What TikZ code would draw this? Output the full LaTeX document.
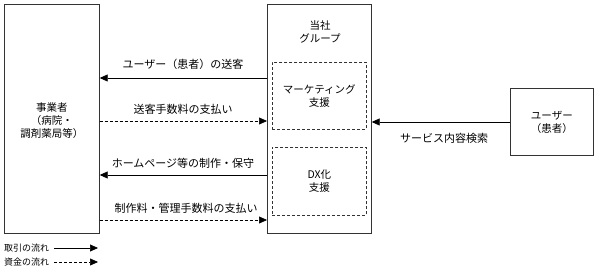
\documentclass[tikz,border=0pt]{standalone}
\usepackage{fontspec}
\setmainfont{Noto Sans CJK JP}
\usetikzlibrary{arrows.meta}
\begin{document}
\begin{tikzpicture}[x=1pt,y=-1pt,
  box/.style={draw=black!80,line width=0.7pt,inner sep=0pt,anchor=north west},
  dbox/.style={draw=black!80,line width=0.6pt,dash pattern=on 3pt off 2pt,inner sep=0pt,anchor=north west},
  lbl/.style={font=\fontsize{11}{13}\selectfont,inner sep=0pt},
  txt/.style={font=\fontsize{10.5}{13}\selectfont,align=center,inner sep=0pt},
  flow/.style={line width=0.7pt,-{Triangle[length=8pt,width=7pt]}},
  money/.style={line width=0.6pt,dash pattern=on 3pt off 2pt,-{Triangle[length=8pt,width=7pt]}},
  leg/.style={font=\fontsize{9}{10}\selectfont,inner sep=0pt,anchor=west}]
\useasboundingbox (0,0) rectangle (600,272);
% boxes
\node[box,minimum width=95pt,minimum height=229pt] (biz) at (4,4) {};
\node[box,minimum width=104pt,minimum height=229pt] (grp) at (267,4) {};
\node[dbox,minimum width=94pt,minimum height=67pt] (mkt) at (272,62) {};
\node[dbox,minimum width=94pt,minimum height=68pt] (dx) at (272,147) {};
\node[box,minimum width=83pt,minimum height=67pt] (usr) at (510,88) {};
% box texts
\node[txt] (biztxt) at (biz.center) [yshift=-2pt] {事業者\\（病院・\\調剤薬局等）};
\node[txt] (grptxt) at (320,32) {当社\\グループ};
\node[txt] (mkttxt) at (mkt.center) {マーケティング\\支援};
\node[txt] (dxtxt) at (dx.center) {DX化\\支援};
\node[txt] (usrtxt) at (usr.center) {ユーザー\\（患者）};
% rows
\coordinate (y1) at (0,78);
\coordinate (y2) at (0,121);
\coordinate (y3) at (0,175);
\coordinate (y4) at (0,220);
\coordinate (y5) at (0,122);
\draw[flow] (grp.west |- y1) -- (biz.east |- y1);
\draw[money] (biz.east |- y2) -- (grp.west |- y2);
\draw[flow] (grp.west |- y3) -- (biz.east |- y3);
\draw[money] (biz.east |- y4) -- (grp.west |- y4);
\draw[flow] (usr.west |- y5) -- (grp.east |- y5);
% labels
\node[lbl] (l1) at (183,64) {ユーザー（患者）の送客};
\node[lbl] (l2) at (183,109) {送客手数料の支払い};
\node[lbl] (l3) at (183,163) {ホームページ等の制作・保守};
\node[lbl] (l4) at (186,208) {制作料・管理手数料の支払い};
\node[lbl] (l5) at (444,138) {サービス内容検索};
% legend
\node[leg] (lg1) at (4,248) {取引の流れ};
\node[leg] (lg2) at (4,262) {資金の流れ};
\coordinate (lg1s) at (54,248);
\coordinate (lg2s) at (54,262);
\coordinate (lg1e) at (98,248);
\coordinate (lg2e) at (98,262);
\draw[flow] (lg1s) -- (lg1e);
\draw[money] (lg2s) -- (lg2e);
\end{tikzpicture}
\end{document}
